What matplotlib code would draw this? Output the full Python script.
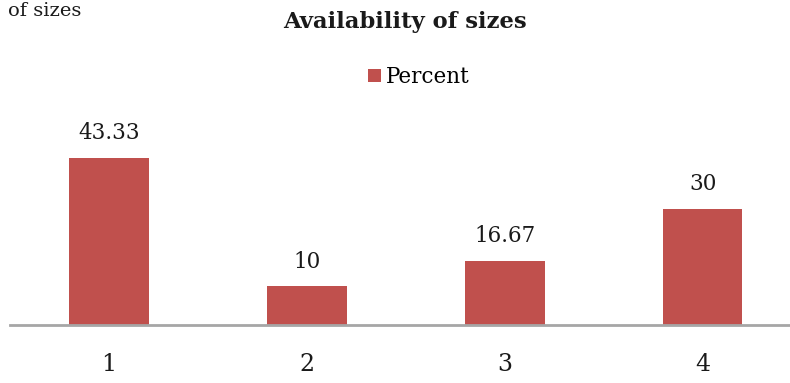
import matplotlib.pyplot as plt

# size availability survey results
categories = ["1", "2", "3", "4"]
percent = [43.33, 10, 16.67, 30]
value_labels = ["43.33", "10", "16.67", "30"]

bar_color = "#C0504D"
axis_color = "#A6A6A6"
plt.rcParams["font.family"] = ["DejaVu Serif"]

fig = plt.figure(figsize=(7.9, 3.83), dpi=100)
ax = fig.add_axes([10 / 790, 58 / 383, 780 / 790, 193 / 383])

x = list(range(len(categories)))
bars = ax.bar(x, percent, width=0.4, color=bar_color, label="Percent")

for xi, v, lab in zip(x, percent, value_labels):
    ax.annotate(lab, (xi, v), xytext=(0, 10), textcoords="offset points",
                ha="center", va="bottom", fontsize=15.5, color="#1a1a1a")

ax.set_xlim(-0.5, 3.44)
ax.set_ylim(0, 50)
ax.set_xticks(x)
ax.set_xticklabels(categories, fontsize=17, color="#1a1a1a")
ax.tick_params(axis="x", length=0, pad=20)
ax.set_yticks([])
for side in ["top", "right", "left"]:
    ax.spines[side].set_visible(False)
ax.spines["bottom"].set_color(axis_color)
ax.spines["bottom"].set_linewidth(2)

fig.text(0.513, 1 - 22 / 383, "Availability of sizes", ha="center", va="center",
         fontsize=16.3, fontweight="bold", color="#1a1a1a")
fig.text(8 / 790, 1 - 2 / 383, "of sizes", ha="left", va="top",
         fontsize=14, color="#1a1a1a")

fig.legend(handles=[bars], loc="center", bbox_to_anchor=(0.53, 1 - 77 / 383),
           frameon=False, fontsize=15.5, handlelength=0.6, handleheight=0.6,
           handletextpad=0.2, borderpad=0)

fig.savefig("out.png", dpi=100)
